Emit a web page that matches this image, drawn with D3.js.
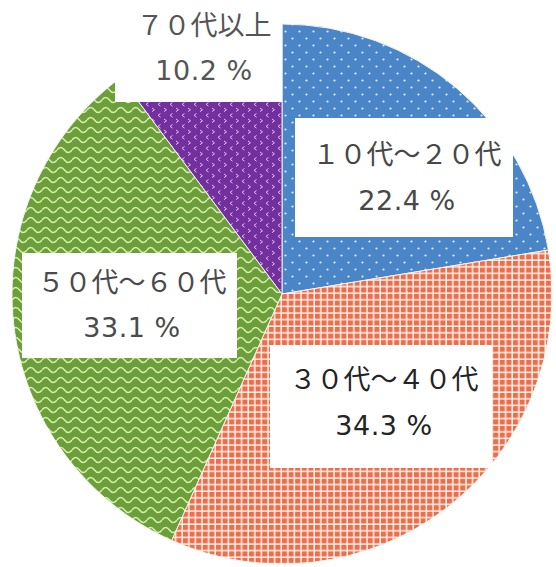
<!DOCTYPE html>
<html>
<head>
<meta charset="utf-8">
<script src="https://cdn.jsdelivr.net/npm/d3@7/dist/d3.min.js"></script>
<style>
  html, body { margin: 0; padding: 0; background: #ffffff; }
  svg { display: block; }
</style>
</head>
<body>
<svg id="chart" width="556" height="567"></svg>
<script>
// ---- data ----
const categories = ["１０代～２０代", "３０代～４０代", "５０代～６０代", "７０代以上"];
const values = [22.4, 34.3, 33.1, 10.2];
const pctLabels = ["22.4 %", "34.3 %", "33.1 %", "10.2 %"];

// ---- layout / style ----
const W = 556, H = 567;
const cx = 282, cy = 294, R = 270;
const fills = ["url(#pBlue)", "url(#pOrange)", "url(#pGreen)", "url(#pPurple)"];
// label boxes (white panels that sit over the pie) and their text placement
const boxes = [
  { x: 295, y: 118, w: 218, h: 119, tx: 407, t1: 164, t2: 210, color: "#484848" },
  { x: 270, y: 345, w: 222, h: 123, tx: 384, t1: 389, t2: 435, color: "#242424" },
  { x: 22,  y: 253, w: 215, h: 105, tx: 132, t1: 292, t2: 337, color: "#4b4b4b" },
  { x: 115, y: -5,  w: 167, h: 107, tx: 204, t1: 35,  t2: 80,  color: "#555555" }
];

const svg = d3.select("#chart");
const defs = svg.append("defs");

// blue: white dots
const pb = defs.append("pattern").attr("id", "pBlue").attr("patternUnits", "userSpaceOnUse")
  .attr("width", 14).attr("height", 14);
pb.append("rect").attr("width", 14).attr("height", 14).attr("fill", "#4a85c8");
pb.append("circle").attr("cx", 3.5).attr("cy", 3.5).attr("r", 1.1).attr("fill", "#e2ecf8");
pb.append("circle").attr("cx", 10.5).attr("cy", 10.5).attr("r", 1.1).attr("fill", "#e2ecf8");

// orange: grid of white lines
const po = defs.append("pattern").attr("id", "pOrange").attr("patternUnits", "userSpaceOnUse")
  .attr("width", 6.6).attr("height", 6.6);
po.append("rect").attr("width", 6.6).attr("height", 6.6).attr("fill", "#fff1e4");
po.append("rect").attr("width", 5.1).attr("height", 5.1).attr("fill", "#ec6e50");

// green: wavy light lines
const pg = defs.append("pattern").attr("id", "pGreen").attr("patternUnits", "userSpaceOnUse")
  .attr("width", 15).attr("height", 10);
pg.append("rect").attr("width", 15).attr("height", 10).attr("fill", "#6c9e3c");
pg.append("path").attr("d", "M0,6 Q3.75,1 7.5,6 T15,6").attr("fill", "none")
  .attr("stroke", "#d6efa6").attr("stroke-width", 1.5);

// purple: small chevrons
const pp = defs.append("pattern").attr("id", "pPurple").attr("patternUnits", "userSpaceOnUse")
  .attr("width", 12).attr("height", 11);
pp.append("rect").attr("width", 12).attr("height", 11).attr("fill", "#71309e");
pp.append("path").attr("d", "M2,1 L4.5,2.8 L2,4.6").attr("fill", "none")
  .attr("stroke", "#e6b8ee").attr("stroke-width", 1);
pp.append("path").attr("d", "M10.5,6.5 L8,8.3 L10.5,10.1").attr("fill", "none")
  .attr("stroke", "#e6b8ee").attr("stroke-width", 1);

// ---- pie ----
const pie = d3.pie().sort(null).value(d => d)(values);
const arc = d3.arc().innerRadius(0).outerRadius(R);

const g = svg.append("g").attr("transform", `translate(${cx},${cy})`);
g.selectAll("path.slice").data(pie).join("path")
  .attr("class", "slice")
  .attr("d", arc)
  .attr("fill", (d, i) => fills[i])
  .attr("stroke", "#f4f4ee")
  .attr("stroke-width", 1);

// ---- labels ----
const lab = svg.append("g");
boxes.forEach((b, i) => {
  lab.append("rect").attr("x", b.x).attr("y", b.y).attr("width", b.w).attr("height", b.h)
    .attr("fill", "#ffffff");
  lab.append("text").attr("x", b.tx).attr("y", b.t1)
    .attr("text-anchor", "middle")
    .attr("font-family", "'Noto Sans CJK JP', sans-serif")
    .attr("font-size", 27).attr("fill", b.color)
    .text(categories[i]);
  lab.append("text").attr("x", b.tx).attr("y", b.t2)
    .attr("text-anchor", "middle")
    .attr("font-family", "'DejaVu Sans', 'Noto Sans CJK JP', sans-serif")
    .attr("font-size", 27).attr("letter-spacing", 0.5).attr("fill", b.color)
    .text(pctLabels[i]);
});
</script>
</body>
</html>
